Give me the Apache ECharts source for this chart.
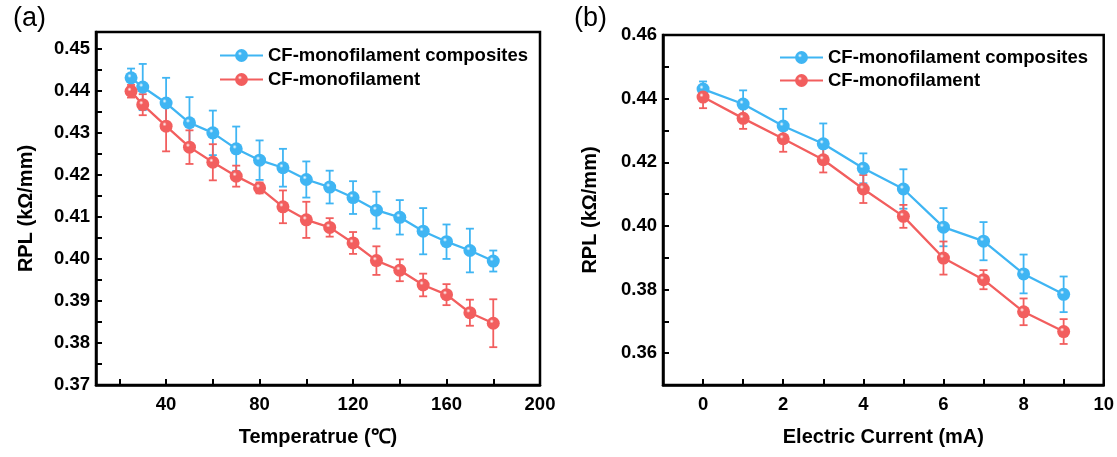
<!DOCTYPE html>
<html>
<head>
<meta charset="utf-8">
<script src="https://cdn.jsdelivr.net/npm/echarts@6/dist/echarts.min.js"></script>
<style>
html,body{margin:0;padding:0;background:#fff;}
#c{width:1117px;height:457px;}
</style>
</head>
<body>
<div id="c"></div>
<script>
// ---- Data: panel (a) Temperature ----
const tempX = [25, 30, 40, 50, 60, 70, 80, 90, 100, 110, 120, 130, 140, 150, 160, 170, 180];
const tempComposite = [0.4431, 0.4409, 0.4371, 0.4324, 0.4300, 0.4262, 0.4235, 0.4217, 0.4189, 0.4171, 0.4146, 0.4116, 0.4099, 0.4066, 0.4041, 0.4020, 0.3995];
const tempCompositeErr = [0.0022, 0.0055, 0.0060, 0.0061, 0.0053, 0.0053, 0.0047, 0.0045, 0.0043, 0.0039, 0.0039, 0.0044, 0.0041, 0.0055, 0.0041, 0.0052, 0.0025];
const tempMono = [0.4399, 0.4367, 0.4316, 0.4266, 0.4230, 0.4197, 0.4169, 0.4124, 0.4093, 0.4075, 0.4038, 0.3996, 0.3973, 0.3938, 0.3915, 0.3872, 0.3847];
const tempMonoErr = [0.0015, 0.0025, 0.0060, 0.0040, 0.0043, 0.0025, 0.0013, 0.0039, 0.0043, 0.0022, 0.0026, 0.0034, 0.0026, 0.0027, 0.0025, 0.0031, 0.0057];

// ---- Data: panel (b) Electric current ----
const currX = [0, 1, 2, 3, 4, 5, 6, 7, 8, 9];
const currComposite = [0.4430, 0.4383, 0.4314, 0.4258, 0.4181, 0.4116, 0.3996, 0.3952, 0.3849, 0.3785];
const currCompositeErr = [0.0024, 0.0043, 0.0054, 0.0064, 0.0047, 0.0062, 0.0060, 0.0060, 0.0061, 0.0056];
const currMono = [0.4405, 0.4338, 0.4274, 0.4208, 0.4116, 0.4030, 0.3899, 0.3831, 0.3730, 0.3668];
const currMonoErr = [0.0035, 0.0033, 0.0041, 0.0040, 0.0044, 0.0036, 0.0052, 0.0030, 0.0042, 0.0039];

// ---- Tick labels ----
const tempXLabels = [40, 80, 120, 160, 200];
const tempXTicks = [20, 40, 60, 80, 100, 120, 140, 160, 180, 200];
const tempYLabels = [0.37, 0.38, 0.39, 0.40, 0.41, 0.42, 0.43, 0.44, 0.45];
const tempYTicks = [0.37, 0.375, 0.38, 0.385, 0.39, 0.395, 0.40, 0.405, 0.41, 0.415, 0.42, 0.425, 0.43, 0.435, 0.44, 0.445, 0.45];
const currXLabels = [0, 2, 4, 6, 8, 10];
const currXTicks = [0, 1, 2, 3, 4, 5, 6, 7, 8, 9, 10];
const currYLabels = [0.36, 0.38, 0.40, 0.42, 0.44, 0.46];
const currYTicks = [0.36, 0.37, 0.38, 0.39, 0.40, 0.41, 0.42, 0.43, 0.44, 0.45, 0.46];

const seriesNames = ['CF-monofilament composites', 'CF-monofilament'];
const BLUE = '#3FB5F3';
const RED = '#F25E5E';
const FONT = '"Liberation Sans", Arial, Helvetica, sans-serif';

function sphere(c) {
  return {
    type: 'radial', x: 0.38, y: 0.35, r: 0.65,
    colorStops: [
      { offset: 0, color: '#ffffff' },
      { offset: 0.25, color: c },
      { offset: 1, color: c }
    ]
  };
}

function zip(xs, ys, es) {
  return xs.map((x, i) => es ? [x, ys[i], es[i]] : [x, ys[i]]);
}

function errRender(params, api) {
  const x = api.value(0), y = api.value(1), e = api.value(2);
  const t = api.coord([x, y + e]);
  const b = api.coord([x, y - e]);
  const hw = 4;
  const style = { stroke: api.visual('color'), lineWidth: 1.8 };
  return {
    type: 'group',
    children: [
      { type: 'line', shape: { x1: t[0], y1: t[1], x2: b[0], y2: b[1] }, style },
      { type: 'line', shape: { x1: t[0] - hw, y1: t[1], x2: t[0] + hw, y2: t[1] }, style },
      { type: 'line', shape: { x1: b[0] - hw, y1: b[1], x2: b[0] + hw, y2: b[1] }, style }
    ]
  };
}

function lineSeries(name, color, xi, yi, data) {
  return {
    name, type: 'line', xAxisIndex: xi, yAxisIndex: yi, data,
    symbol: 'circle', symbolSize: 13,
    lineStyle: { color, width: 2.3 },
    itemStyle: { color: sphere(color), borderWidth: 0 },
    emphasis: { disabled: true }, z: 3
  };
}
function errSeries(color, xi, yi, data) {
  return {
    type: 'custom', xAxisIndex: xi, yAxisIndex: yi, data,
    renderItem: errRender, itemStyle: { color }, z: 2, silent: true
  };
}

const labelStyle = { color: '#000', fontFamily: FONT, fontWeight: 'bold', fontSize: 18.5 };
const nameStyle = { color: '#000', fontFamily: FONT, fontWeight: 'bold', fontSize: 20 };
const legendText = { fontFamily: FONT, fontWeight: 'bold', fontSize: 18.5, color: '#000' };

function xAxisCfg(gi, min, max, labels, ticks, name, nameGap) {
  return {
    gridIndex: gi, type: 'value', min, max,
    name, nameLocation: 'middle', nameGap, nameTextStyle: nameStyle,
    axisLine: { show: true, onZero: false, lineStyle: { color: '#000', width: 2.5 } },
    axisTick: { show: true, inside: true, length: 6, lineStyle: { color: '#000', width: 2 }, customValues: ticks },
    axisLabel: Object.assign({ margin: 10, customValues: labels }, labelStyle),
    splitLine: { show: false }
  };
}
function yAxisCfg(gi, min, max, labels, ticks, name, nameGap) {
  return {
    gridIndex: gi, type: 'value', min, max,
    name, nameLocation: 'middle', nameGap, nameTextStyle: nameStyle,
    axisLine: { show: true, onZero: false, lineStyle: { color: '#000', width: 2.5 } },
    axisTick: { show: true, inside: true, length: 6, lineStyle: { color: '#000', width: 2 }, customValues: ticks },
    axisLabel: Object.assign({ margin: 6, customValues: labels, formatter: v => v.toFixed(2) }, labelStyle),
    splitLine: { show: false }
  };
}

const chart = echarts.init(document.getElementById('c'), null, { renderer: 'canvas' });
chart.setOption({
  animation: false,
  backgroundColor: '#fff',
  title: [
    { text: '(a)', left: 8, top: 0, textStyle: { fontFamily: FONT, fontWeight: 'normal', fontSize: 27, color: '#000' } },
    { text: '(b)', left: 569, top: 0, textStyle: { fontFamily: FONT, fontWeight: 'normal', fontSize: 27, color: '#000' } }
  ],
  grid: [
    { left: 96, top: 32, width: 444, height: 353, show: true, borderColor: '#000', borderWidth: 2.5, backgroundColor: 'transparent' },
    { left: 663, top: 35, width: 442, height: 350, show: true, borderColor: '#000', borderWidth: 2.5, backgroundColor: 'transparent' }
  ],
  legend: [
    { data: seriesNames, orient: 'vertical', left: 219, top: 46, itemWidth: 43, itemHeight: 16, itemGap: 5, padding: 0,
      textStyle: legendText, selectedMode: false },
    { data: seriesNames, orient: 'vertical', left: 779, top: 48, itemWidth: 43, itemHeight: 16, itemGap: 4, padding: 0,
      textStyle: legendText, selectedMode: false }
  ],
  xAxis: [
    xAxisCfg(0, 10, 200, tempXLabels, tempXTicks, 'Temperatrue (℃)', 42),
    xAxisCfg(1, -1, 10, currXLabels, currXTicks, 'Electric Current (mA)', 42)
  ],
  yAxis: [
    yAxisCfg(0, 0.37, 0.454, tempYLabels, tempYTicks, 'RPL (kΩ/mm)', 60),
    yAxisCfg(1, 0.35, 0.46, currYLabels, currYTicks, 'RPL (kΩ/mm)', 63)
  ],
  series: [
    errSeries(BLUE, 0, 0, zip(tempX, tempComposite, tempCompositeErr)),
    errSeries(RED, 0, 0, zip(tempX, tempMono, tempMonoErr)),
    lineSeries(seriesNames[0], BLUE, 0, 0, zip(tempX, tempComposite)),
    lineSeries(seriesNames[1], RED, 0, 0, zip(tempX, tempMono)),
    errSeries(BLUE, 1, 1, zip(currX, currComposite, currCompositeErr)),
    errSeries(RED, 1, 1, zip(currX, currMono, currMonoErr)),
    lineSeries(seriesNames[0], BLUE, 1, 1, zip(currX, currComposite)),
    lineSeries(seriesNames[1], RED, 1, 1, zip(currX, currMono))
  ]
});
</script>
</body>
</html>
